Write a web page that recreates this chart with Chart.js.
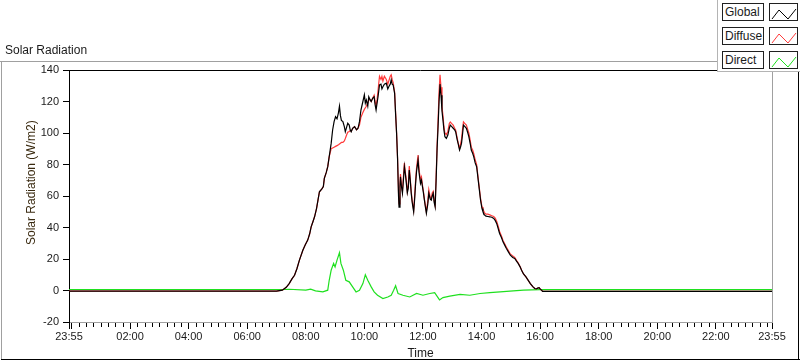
<!DOCTYPE html>
<html>
<head>
<meta charset="utf-8">
<script src="https://cdn.jsdelivr.net/npm/chart.js@4.4.1/dist/chart.umd.min.js"></script>
<style>
  html, body { margin: 0; padding: 0; background: #ffffff; }
  #wrap { position: relative; width: 800px; height: 361px; overflow: hidden; background: #ffffff;
          font-family: "Liberation Sans", Arial, sans-serif; color: #1a1a1a; }
  #chart { position: absolute; left: 0; top: 0; z-index: 2; }
  .ln { position: absolute; z-index: 1; }
  #title { position: absolute; left: 5px; top: 43px; font-size: 12px; line-height: 14px; z-index: 3; }
  #legend { position: absolute; left: 717px; top: 0; width: 83px; height: 72px; background: #fff;
            border-left: 1px solid #b4b4b4; border-bottom: 1px solid #b4b4b4; box-sizing: border-box; z-index: 4; }
  .lrow { position: absolute; left: 4px; height: 18px; }
  .lname { position: absolute; left: 0; top: 0; width: 42px; height: 18px; box-sizing: border-box;
           border: 1px solid #202020; font-size: 12px; line-height: 16px; padding-left: 2px; background: #fff; }
  .licon { position: absolute; left: 47px; top: 0; width: 29px; height: 18px; box-sizing: border-box;
           border: 1px solid #202020; background: #fff; }
  .licon svg { position: absolute; left: 0; top: 0; }
</style>
</head>
<body>
<div id="wrap">
  <div class="ln" style="left:0;top:61px;width:717px;height:1px;background:#a0a0a0"></div>
  <div class="ln" style="left:1px;top:61px;width:1px;height:298px;background:#a0a0a0"></div>
  <div class="ln" style="left:1px;top:359px;width:799px;height:1px;background:#000"></div>
  <div class="ln" style="left:798px;top:72px;width:1px;height:288px;background:#000"></div>
  <div id="title">Solar Radiation</div>
  <canvas id="chart" width="800" height="361"></canvas>
  <div id="legend"></div>
</div>
<script>
// ---- Data (time in minutes from 00:00; -5 = 23:55 previous day, 1435 = 23:55) ----
const timesGD = [-5, 420, 432, 440, 446, 452, 457, 462, 467, 474, 479, 484, 488, 491, 495, 498, 502, 505, 508, 513,
  516, 518, 522, 525, 528, 532, 535, 538, 541, 544, 547, 549, 551, 553, 556, 559, 561, 564, 566, 569,
  571, 573, 576, 580, 584, 587, 590, 593, 597, 600, 602, 604, 607, 609, 612, 614, 617, 620, 622, 624,
  626, 628, 631, 634, 636, 638, 641, 645, 648, 650, 653, 655, 657, 659, 662, 664, 666, 668, 670, 671,
  673, 674, 676, 678, 680, 682, 684, 686, 688, 690, 692, 694, 696, 698, 701, 703, 705, 707, 710, 712,
  715, 717, 719, 721, 723, 725, 727, 730, 732, 735, 737, 739, 741, 743, 745, 747, 749, 751, 753, 755,
  757, 759, 761, 763, 765, 768, 771, 774, 776, 779, 782, 785, 787, 790, 792, 795, 797, 799, 801, 803,
  806, 809, 812, 814, 817, 819, 822, 824, 827, 830, 834, 838, 841, 843, 846, 849, 853, 857, 861, 865,
  868, 871, 874, 877, 881, 884, 888, 891, 895, 899, 904, 908, 912, 915, 919, 922, 926, 931, 936, 940,
  945, 949, 952, 955, 958, 960, 963, 965, 1435];
const globalValues = [-0.45, -0.45, 0.2, 2.0, 4.4, 7.5, 9.7, 14, 19.3, 25.6, 29, 32, 36, 40.4, 44, 46.8, 52, 57.4, 62.7, 64.5,
  66, 71.2, 75, 78.6, 85, 93.4, 101.9, 107.2, 110.4, 109, 113, 117, 111, 108, 107.2, 104, 100.8, 104, 106.2, 105,
  102, 100.8, 103, 104, 102, 103, 107.2, 114.6, 120, 124.2, 119, 121, 117, 123, 121, 120, 122, 123, 118, 114.6,
  119, 123, 130.5, 131, 128, 129.4, 131, 131.6, 128, 129.4, 131, 133.7, 131, 130.5, 125.2, 112, 100, 84, 60, 53,
  66, 72.2, 66, 61.7, 70, 78.6, 74, 68, 62, 65, 76.5, 70, 61.7, 56, 50, 58, 68, 76, 82.8, 75,
  68, 70, 65.9, 62, 57.4, 53, 49, 55, 61.7, 58, 57.4, 60, 61.7, 56, 53.1, 70, 90, 104, 120, 131,
  124, 114, 108.3, 102, 97.7, 96.6, 98.7, 103, 105, 104, 103, 102, 100.8, 96, 93.4, 89.2, 91, 93.4, 99, 105,
  104, 103, 100, 97.7, 93, 89.2, 87, 85, 81, 78.6, 68, 57.4, 52, 50, 48, 47.2, 47, 46.8, 46.5, 45.8,
  44.5, 42.6, 39.5, 36.2, 33.5, 30.9, 28.5, 26.7, 24.5, 22.4, 21, 20.3, 18.5, 17.2, 15, 12.9, 10.5, 8.6, 6.3, 4.4,
  2.5, 1.3, 1.0, 1.5, 1.8, 1.0, 0.2, -0.5, -0.5];
const diffuseValues = [-0.45, -0.45, 0.2, 2.0, 4.4, 7.5, 9.7, 14, 19.3, 25.6, 29, 32, 36, 40.4, 44, 46.8, 52, 57.4, 62.7, 64.5,
  66, 71.2, 75, 78.6, 85, 90, 90.5, 91, 91.5, 92, 92.5, 93, 93.5, 94, 94, 95, 96.5, 99, 100.5, 101,
  101.5, 101, 103, 104, 102, 103, 105, 110, 113, 115, 116, 117, 119, 121, 121, 120, 122, 124, 120, 117,
  121, 127, 136, 134, 136, 133, 136, 134, 131, 133, 136, 137, 134, 132, 126, 113, 100, 84, 62, 55,
  68, 74, 67, 63, 72, 81, 75, 70, 63, 67, 79, 71, 63, 57, 51, 60, 70, 78, 86, 77,
  70, 72, 67, 63, 58, 54, 50, 57, 64, 59, 58, 62, 63, 57, 54, 72, 92, 108, 126, 137,
  129, 117, 111, 104, 100, 99, 101, 106, 107, 106, 105, 103, 102, 97, 94, 90, 93, 96, 102, 107,
  106, 105, 102, 100, 95, 91, 89, 87, 83, 80, 69, 58.5, 53, 51.5, 49.5, 48.5, 48.5, 48, 47.5, 47,
  46, 44, 41, 37.5, 34.5, 31.8, 29.3, 27.5, 25.3, 23.2, 22, 21, 19, 17.6, 15.3, 13, 10.5, 8.6, 6.3, 4.4,
  2.5, 1.3, 1.0, 1.5, 1.8, 1.0, 0.2, -0.5, -0.5];
const timesDirect = [-5, 432, 446, 480, 490, 500, 515, 525, 528, 532, 537, 540, 544, 549, 552, 557, 562, 569, 576, 583,
  590, 597, 602, 607, 614, 620, 627, 638, 648, 655, 660, 664, 669, 679, 693, 707, 720, 734, 744, 754,
  761, 775, 796, 816, 837, 857, 878, 905, 926, 960, 1435];
const directValues = [0.65, 0.65, 0.8, 0.2, 0.8, -0.2, -0.9, 0.2, 6.5, 12.9, 17.2, 15, 19.3, 24, 17.2, 12.9, 6.5, 5.5, 2.3, -0.9,
  0.2, 4.4, 10, 6.5, 2.3, -0.9, -3, -5.1, -4.1, -3, 0.2, 3, -1.9, -3, -4.1, -1.9, -3, -1.9, -1.3, -6,
  -4.5, -3.6, -2.5, -3, -1.9, -1.3, -0.9, -0.2, 0.2, 0.6, 0.6];

const seriesNames = ['Global', 'Diffuse', 'Direct'];
const seriesColors = ['#000000', '#ff3b3b', '#1fe01f'];
const xTickMinutes = [-5, 0, 120, 240, 360, 480, 600, 720, 840, 960, 1080, 1200, 1320, 1435];
const xTickLabels = ['23:55', '', '02:00', '04:00', '06:00', '08:00', '10:00', '12:00', '14:00', '16:00', '18:00', '20:00', '22:00', '23:55'];
const xMinorStep = 15;
const yMin = -20, yMax = 140, yStep = 20;
const xTitle = 'Time';
const yTitle = 'Solar Radiation (W/m2)';

// ---- Legend (HTML) ----
const legend = document.getElementById('legend');
seriesNames.forEach((name, i) => {
  const row = document.createElement('div');
  row.className = 'lrow';
  row.style.top = (3 + i * 24) + 'px';
  row.innerHTML = '<div class="lname">' + name + '</div>' +
    '<div class="licon"><svg width="29" height="18" viewBox="0 0 29 18">' +
    '<polyline points="2,15 9,6 18,15 26,5" fill="none" stroke="' + seriesColors[i] + '" stroke-width="1"/></svg></div>';
  legend.appendChild(row);
});

// ---- Chart ----
Chart.defaults.font.family = '"Liberation Sans", Arial, sans-serif';
Chart.defaults.font.size = 11;
Chart.defaults.color = '#1a1a1a';

const toPts = (ts, vs) => ts.map((t, i) => ({ x: t, y: vs[i] }));

const plotFrame = {
  id: 'plotFrame',
  afterDraw(chart) {
    const { ctx, chartArea: a, scales: { x } } = chart;
    ctx.save();
    ctx.lineWidth = 1;
    ctx.strokeStyle = '#000';
    ctx.beginPath(); ctx.moveTo(a.left, Math.round(a.top) + 0.5); ctx.lineTo(a.right, Math.round(a.top) + 0.5); ctx.stroke();
    ctx.strokeStyle = '#a0a0a0';
    ctx.beginPath(); ctx.moveTo(Math.round(a.right) + 0.5, a.top); ctx.lineTo(Math.round(a.right) + 0.5, a.bottom); ctx.stroke();
    ctx.strokeStyle = '#000';
    ctx.beginPath();
    for (let t = 0; t < 1440; t += xMinorStep) {
      if (xTickMinutes.includes(t)) continue;
      const px = Math.round(x.getPixelForValue(t)) + 0.5;
      ctx.moveTo(px, a.bottom + 1); ctx.lineTo(px, a.bottom + 5);
    }
    ctx.stroke();
    ctx.restore();
  }
};

new Chart(document.getElementById('chart'), {
  type: 'line',
  data: {
    datasets: [
      { label: seriesNames[0], data: toPts(timesGD, globalValues), borderColor: seriesColors[0], order: 0 },
      { label: seriesNames[1], data: toPts(timesGD, diffuseValues), borderColor: seriesColors[1], order: 1 },
      { label: seriesNames[2], data: toPts(timesDirect, directValues), borderColor: seriesColors[2], order: 2 }
    ]
  },
  options: {
    responsive: false,
    animation: false,
    devicePixelRatio: 1,
    layout: { padding: { left: 0, right: 28, top: 70, bottom: 0 } },
    elements: {
      line: { borderWidth: 1.2, tension: 0, fill: false },
      point: { radius: 0, hoverRadius: 0 }
    },
    plugins: { legend: { display: false }, tooltip: { enabled: false }, title: { display: false } },
    scales: {
      x: {
        type: 'linear',
        min: -5, max: 1435,
        afterBuildTicks: (s) => { s.ticks = xTickMinutes.map(v => ({ value: v })); },
        afterFit: (s) => { s.height = 39; },
        ticks: {
          autoSkip: false, maxRotation: 0, minRotation: 0, padding: 1, color: '#1a1a1a',
          callback: (v) => { const i = xTickMinutes.indexOf(v); return i >= 0 ? xTickLabels[i] : ''; }
        },
        grid: { drawOnChartArea: false, drawTicks: true, tickLength: 7, tickColor: '#000' },
        border: { color: '#a0a0a0', width: 1 },
        title: { display: true, text: xTitle, font: { size: 12 }, padding: { top: 0, bottom: 0 }, color: '#1a1a1a' }
      },
      y: {
        min: yMin, max: yMax,
        afterFit: (s) => { s.width = 69; },
        ticks: { stepSize: yStep, padding: 4, color: '#1a1a1a' },
        grid: { drawOnChartArea: false, drawTicks: true, tickLength: 6, tickColor: '#000' },
        border: { color: '#000', width: 1 },
        title: { display: true, text: '        ' + yTitle, font: { size: 12 }, padding: { top: 24, bottom: 0 }, color: '#3a2a10' }
      }
    }
  },
  plugins: [plotFrame]
});
</script>
</body>
</html>
